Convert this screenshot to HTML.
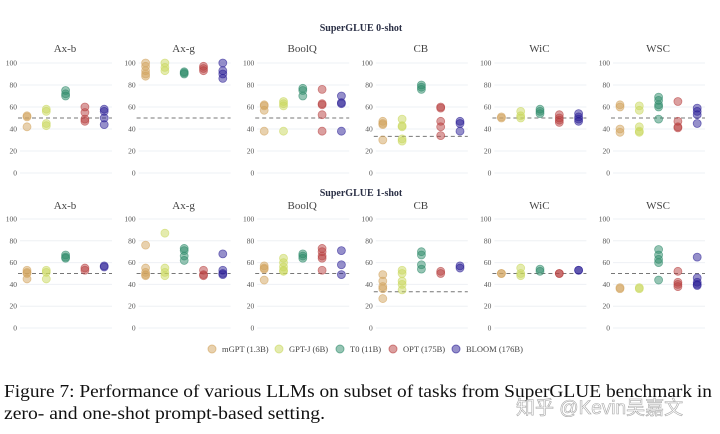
<!DOCTYPE html>
<html><head><meta charset="utf-8"><style>
html,body{margin:0;padding:0;background:#fff;width:720px;height:434px;overflow:hidden}
svg{display:block}
</style></head><body>
<svg id="chart" width="720" height="434" xmlns="http://www.w3.org/2000/svg">
<text x="361" y="31" text-anchor="middle" font-family="Liberation Serif,serif" font-weight="bold" font-size="10" fill="#2a2f45">SuperGLUE 0-shot</text>
<text x="361" y="196" text-anchor="middle" font-family="Liberation Serif,serif" font-weight="bold" font-size="10" fill="#2a2f45">SuperGLUE 1-shot</text>
<g id="panels"></g>
<g id="legend"></g>
<text x="4" y="397" font-family="Liberation Serif,serif" font-size="17.6" fill="#111" textLength="708" lengthAdjust="spacingAndGlyphs">Figure 7: Performance of various LLMs on subset of tasks from SuperGLUE benchmark in</text>
<text x="4" y="419" font-family="Liberation Serif,serif" font-size="17.6" fill="#111" textLength="321" lengthAdjust="spacingAndGlyphs">zero- and one-shot prompt-based setting.</text>
<text x="516" y="414" font-family="Liberation Sans,Noto Sans CJK SC,sans-serif" font-size="19" fill="#fff" stroke="#999" stroke-width="0.6" opacity="0.85">知乎 @Kevin吴嘉文</text>
</svg>
<script>
const tasks = ["Ax-b","Ax-g","BoolQ","CB","WiC","WSC"];
const models = ["mGPT (1.3B)","GPT-J (6B)","T0 (11B)","OPT (175B)","BLOOM (176B)"];
const baselines = [50,50,50,33.3,50,50];
const yTicks = [0,20,40,60,80,100];
const zeroShot = [
 [[52,51,42],[58,56,45,43],[75,72,70],[60,55,49,47],[58,56,50,44]],
 [[100,97,93,90,88],[100,96,93],[92,91,90],[97,95,93],[100,93,90,86]],
 [[62,61,57,38],[65,63,61,38],[77,75,70],[76,63,62,53,38],[70,64,63,38]],
 [[47,45,44,30],[49,43,42,31,29],[80,78,76],[60,59,47,42,34],[47,45,38]],
 [[51,50],[56,52,50],[58,56,54],[53,50,48,46],[54,51,49,47]],
 [[62,60,40,37],[61,57,42,38,37],[69,66,62,60,49],[65,47,42,41],[59,56,53,45]]
];
const oneShot = [
 [[53,51,50,45],[53,51,45],[67,65,64],[55,53],[57,56]],
 [[76,55,51,49,48],[87,55,51,48],[73,71,66,62],[53,49,48],[68,53,50,49]],
 [[57,55,54,44],[64,60,56,53,52],[68,66,64],[73,70,66,64,53],[71,58,49]],
 [[49,43,38,36,27],[53,50,43,40,35],[70,67,58,54],[52,50],[57,55]],
 [[50,50],[55,50,48],[54,52],[50,50],[53,53]],
 [[37,36],[37,36],[72,67,63,60,44],[52,42,40,38],[65,46,42,40,39]]
];
const colors = ["#d2a45e","#c9d85e","#2e8b6a","#b8403f","#2b1f96"];
const NS="http://www.w3.org/2000/svg";
function mk(tag,attrs,parent){const e=document.createElementNS(NS,tag);for(const k in attrs)e.setAttribute(k,attrs[k]);parent.appendChild(e);return e;}
const panels=document.getElementById('panels');
const rows=[{data:zeroShot,y100:63,y0:173,ty:52,name:'0-shot'},{data:oneShot,y100:219,y0:328,ty:209,name:'1-shot'}];
const panelLeft = i => 20 + i*118.6;
const pw = 92;
rows.forEach((row,ri)=>{
  const yScale = v => row.y0 - (row.y0-row.y100)*v/100;
  tasks.forEach((t,ti)=>{
    const g=mk('g',{},panels);
    
    
    const L=panelLeft(ti);
    const xScale = m => L + 7 + m*19.3;
    const tt=mk('text',{x:L+pw/2-1,y:row.ty,'text-anchor':'middle','font-family':'Liberation Serif,serif','font-size':'11',fill:'#444'},g);
    tt.textContent=t;
    
    
    yTicks.forEach(v=>{
      const gl=mk('line',{x1:L,x2:L+pw,y1:yScale(v),y2:yScale(v),stroke:'#eef0f4','stroke-width':1},g);
      
      
      const tl=mk('text',{x:L-3,y:yScale(v)+2.5,'text-anchor':'end','font-family':'Liberation Serif,serif','font-size':'7.5',fill:'#555'},g);
      tl.textContent=v;
      
      
    });
    const bl=mk('line',{x1:L-2,x2:L+pw,y1:yScale(baselines[ti]),y2:yScale(baselines[ti]),stroke:'#777','stroke-width':1,'stroke-dasharray':'4,3'},g);
    
    
    row.data[ti].forEach((vals,mi)=>{
      vals.forEach(v=>{
        const c=mk('circle',{cx:xScale(mi),cy:yScale(v),r:4,fill:colors[mi],'fill-opacity':0.5,stroke:colors[mi],'stroke-opacity':0.6,'stroke-width':0.8},g);
        
        
      });
    });
  });
});
const legend=document.getElementById('legend');
const legX=[212,279,340,393,456];
models.forEach((m,i)=>{
  const c=mk('circle',{cx:legX[i],cy:349,r:4,fill:colors[i],'fill-opacity':0.5,stroke:colors[i],'stroke-opacity':0.6},legend);
  
  
  const t=mk('text',{x:legX[i]+10,y:352,'font-family':'Liberation Serif,serif','font-size':'8.5',fill:'#444'},legend);
  t.textContent=m;
  
  
});
</script>
</body></html>
